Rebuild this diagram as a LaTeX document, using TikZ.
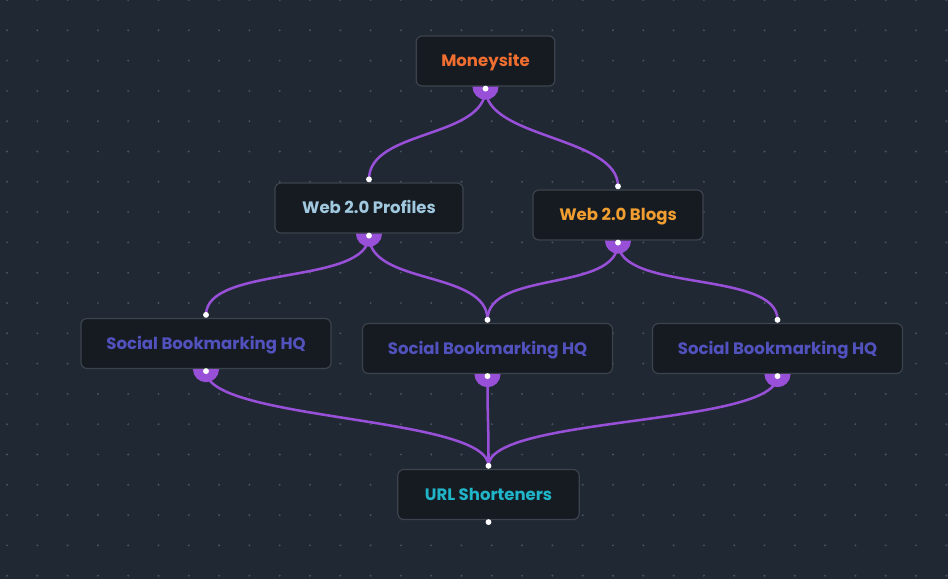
\documentclass[tikz,border=0pt]{standalone}
\usepackage{fontspec}
\setmainfont{Poppins}
\usetikzlibrary{positioning}
\definecolor{canvas}{RGB}{32,40,51}
\definecolor{gridgray}{RGB}{74,84,96}
\definecolor{cardfill}{RGB}{22,27,34}
\definecolor{cardline}{RGB}{60,67,77}
\definecolor{wire}{RGB}{152,80,216}
\definecolor{moneyorange}{RGB}{240,110,48}
\definecolor{profileblue}{RGB}{160,200,222}
\definecolor{blogorange}{RGB}{240,158,48}
\definecolor{bookindigo}{RGB}{82,82,190}
\definecolor{shortcyan}{RGB}{32,180,200}

\begin{document}
\begin{tikzpicture}[x=0.75pt,y=-0.75pt,
  card/.style={draw=cardline,line width=0.9pt,fill=cardfill,rounded corners=4.5pt,minimum height=37.5pt,inner sep=0pt,text height=10.7pt,text depth=2pt,font=\fontsize{12.4}{14}\selectfont\bfseries},
  link/.style={draw=wire,line width=1.9pt},
  cup/.style={fill=wire},
  port/.style={fill=white}]
  \fill[canvas] (0,0) rectangle (948,579);
  \useasboundingbox (0,0) rectangle (948,579);
  \foreach \i in {0,...,31} {
    \foreach \j in {0,...,19} {
      \fill[gridgray] (7+30.3*\i,30.3*\j) circle (0.8pt);
    }
  }

  \node[card,minimum width=104pt,text=moneyorange] (moneysite) at (485.5,61) {Moneysite};
  \node[card,minimum width=141pt,text=profileblue] (profiles) at (369,208) {Web 2.0 Profiles};
  \node[card,minimum width=127.5pt,text=blogorange] (blogs) at (618,215) {Web 2.0 Blogs};
  \node[card,minimum width=187.5pt,text=bookindigo] (bm1) at (206,343.5) {Social Bookmarking HQ};
  \node[card,minimum width=187.5pt,text=bookindigo] (bm2) at (487.5,348.5) {Social Bookmarking HQ};
  \node[card,minimum width=187.5pt,text=bookindigo] (bm3) at (777.5,348.5) {Social Bookmarking HQ};
  \node[card,minimum width=136pt,text=shortcyan] (shorteners) at (488.5,494.5) {URL Shorteners};

  \foreach \n in {moneysite,profiles,blogs,bm1,bm2,bm3,shorteners} {
    \coordinate (\n-in) at ([yshift=2.3pt]\n.north);
    \coordinate (\n-out) at ([yshift=-1.5pt]\n.south);
  }
  \foreach \a in {moneysite,profiles,blogs,bm1,bm2,bm3}
    \fill[cup] ([xshift=-9.8pt]\a.south) arc[start angle=180,end angle=360,radius=9.8pt] -- cycle;
  \foreach \a/\b in {moneysite/profiles,moneysite/blogs,profiles/bm1,profiles/bm2,blogs/bm2,blogs/bm3,bm1/shorteners,bm2/shorteners,bm3/shorteners}
    \draw[link] (\a-out) .. controls +(0,50) and +(0,-50) .. (\b-in);
  \foreach \n in {profiles,blogs,bm1,bm2,bm3,shorteners}
    \fill[port] (\n-in) circle (2.2pt);
  \foreach \n in {moneysite,profiles,blogs,bm1,bm2,bm3,shorteners}
    \fill[port] (\n-out) circle (2.2pt);
\end{tikzpicture}
\end{document}
